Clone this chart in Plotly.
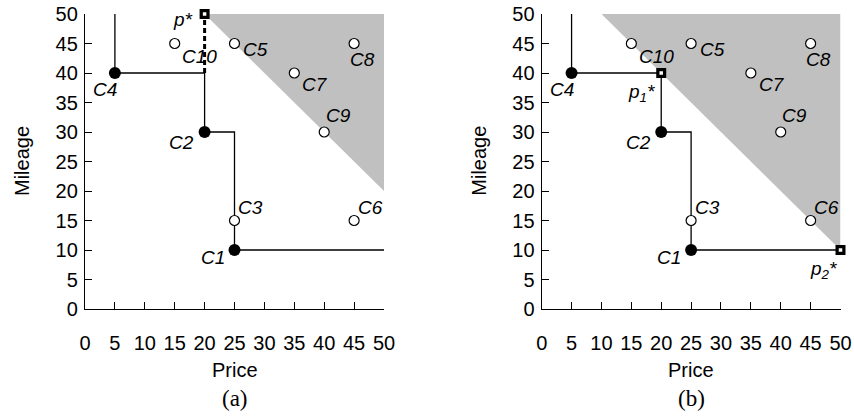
import plotly.graph_objects as go

# ---------------- data ----------------
names = ["C1", "C2", "C3", "C4", "C5", "C6", "C7", "C8", "C9", "C10"]
price = [25, 20, 25, 5, 25, 45, 35, 45, 40, 15]
mileage = [10, 30, 15, 40, 45, 15, 40, 45, 30, 45]
skyline = [True, True, False, True, False, False, False, False, False, False]

stair_price = [5, 5, 20, 20, 25, 25, 50]
stair_mileage = [50, 40, 40, 30, 30, 10, 10]

# panel (a)
shade_a_price = [20, 50, 50, 20]
shade_a_mileage = [50, 50, 20, 50]
pstar_a_price = [20]
pstar_a_mileage = [50]
pstar_a_text = ["<i>p</i>*"]
dash_price = [20, 20]
dash_mileage = [40, 50]

# panel (b)
shade_b_price = [10, 50, 50, 10]
shade_b_mileage = [50, 50, 10, 50]
pstar_b_price = [20, 50]
pstar_b_mileage = [40, 10]
pstar_b_text = ["<i>p</i><sub>1</sub>*", "<i>p</i><sub>2</sub>*"]

tick_vals = [0, 5, 10, 15, 20, 25, 30, 35, 40, 45, 50]
x_title = "Price"
y_title = "Mileage"
captions = ["(a)", "(b)"]

# label offsets in pixels (dx, dy up)
label_shift = {
    "C1": (-22, -7), "C2": (-23, -10), "C3": (16, 13), "C4": (-10, -16),
    "C5": (21, -6), "C6": (16, 13), "C7": (21, -11), "C8": (8, -16),
    "C9": (14, 17), "C10": (25, -13),
}
pstar_a_shift = [(-22, -6)]
pstar_b_shift = [(-20, -20), (-17, -20)]

FONT = "Liberation Sans, Arial, sans-serif"
SERIF = "Liberation Serif, Times New Roman, serif"

W, H = 854, 416
xdom_a = [85 / W, 384 / W]
xdom_b = [541.7 / W, 840.5 / W]
ydom = [(H - 309) / H, (H - 14) / H]

fig = go.Figure()

panels = [
    ("x", "y", shade_a_price, shade_a_mileage, pstar_a_price, pstar_a_mileage, pstar_a_text, pstar_a_shift, xdom_a),
    ("x2", "y2", shade_b_price, shade_b_mileage, pstar_b_price, pstar_b_mileage, pstar_b_text, pstar_b_shift, xdom_b),
]

annotations = []
for i, (xa, ya, sx, sy, px, py, ptxt, pshift, xdom) in enumerate(panels):
    fig.add_trace(go.Scatter(x=sx, y=sy, xaxis=xa, yaxis=ya, mode="lines", fill="toself",
                             fillcolor="#c0c0c0", line=dict(width=0), hoverinfo="skip", showlegend=False))
    fig.add_trace(go.Scatter(x=stair_price, y=stair_mileage, xaxis=xa, yaxis=ya, mode="lines",
                             line=dict(color="black", width=1.3), showlegend=False, cliponaxis=False))
    if i == 0:
        fig.add_trace(go.Scatter(x=dash_price, y=dash_mileage, xaxis=xa, yaxis=ya, mode="lines",
                                 line=dict(color="black", width=3, dash="5px,3px"), showlegend=False,
                                 cliponaxis=False))
    op_x = [p for p, s in zip(price, skyline) if not s]
    op_y = [m for m, s in zip(mileage, skyline) if not s]
    fi_x = [p for p, s in zip(price, skyline) if s]
    fi_y = [m for m, s in zip(mileage, skyline) if s]
    fig.add_trace(go.Scatter(x=op_x, y=op_y, xaxis=xa, yaxis=ya, mode="markers", cliponaxis=False,
                             marker=dict(symbol="circle", size=10, color="white",
                                         line=dict(color="black", width=1.2)), showlegend=False))
    fig.add_trace(go.Scatter(x=fi_x, y=fi_y, xaxis=xa, yaxis=ya, mode="markers", cliponaxis=False,
                             marker=dict(symbol="circle", size=12, color="black"), showlegend=False))
    fig.add_trace(go.Scatter(x=px, y=py, xaxis=xa, yaxis=ya, mode="markers", cliponaxis=False,
                             marker=dict(symbol="square", size=10, color="black"), showlegend=False))
    fig.add_trace(go.Scatter(x=px, y=py, xaxis=xa, yaxis=ya, mode="markers", cliponaxis=False,
                             marker=dict(symbol="square", size=3.5, color="white"), showlegend=False))
    for n, x, y in zip(names, price, mileage):
        dx, dy = label_shift[n]
        annotations.append(dict(x=x, y=y, xref=xa, yref=ya, text=n, showarrow=False,
                                xshift=dx, yshift=dy,
                                font=dict(family=FONT, size=19, color="black", style="italic")))
    for x, y, t, (dx, dy) in zip(px, py, ptxt, pshift):
        annotations.append(dict(x=x, y=y, xref=xa, yref=ya, text=t, showarrow=False,
                                xshift=dx, yshift=dy,
                                font=dict(family=FONT, size=19, color="black", style="italic")))
    xc = (xdom[0] + xdom[1]) / 2
    # axis titles and caption
    annotations.append(dict(x=xc, y=(H - 370) / H, xref="paper", yref="paper", text=x_title,
                            xanchor="center", yanchor="middle", showarrow=False,
                            font=dict(family=FONT, size=20, color="black")))
    annotations.append(dict(x=xc, y=(H - 398) / H, xref="paper", yref="paper", text=captions[i],
                            xanchor="center", yanchor="middle", showarrow=False,
                            font=dict(family=SERIF, size=23, color="black")))
    annotations.append(dict(x=xdom[0] - 63 / W, y=(H - 161) / H, xref="paper", yref="paper",
                            text=y_title, textangle=-90, xanchor="center", yanchor="middle",
                            showarrow=False, font=dict(family=FONT, size=20, color="black")))

axis_common = dict(range=[0, 50], tickvals=tick_vals, ticks="inside", ticklen=7, tickwidth=1.3,
                   tickcolor="black", showline=True, linecolor="black", linewidth=1.3,
                   showgrid=False, zeroline=False, fixedrange=True, automargin=False,
                   tickfont=dict(family=FONT, size=20, color="black"))

xcommon = dict(axis_common, ticklabelstandoff=16)
ycommon = dict(axis_common, ticklabelstandoff=2)

fig.update_layout(
    width=W, height=H, margin=dict(l=0, r=0, t=0, b=0, autoexpand=False),
    paper_bgcolor="white", plot_bgcolor="white",
    xaxis=dict(xcommon, domain=xdom_a, anchor="y"),
    yaxis=dict(ycommon, domain=ydom, anchor="x"),
    xaxis2=dict(xcommon, domain=xdom_b, anchor="y2"),
    yaxis2=dict(ycommon, domain=ydom, anchor="x2"),
    annotations=annotations,
    showlegend=False,
)

fig.write_html("out.html")
